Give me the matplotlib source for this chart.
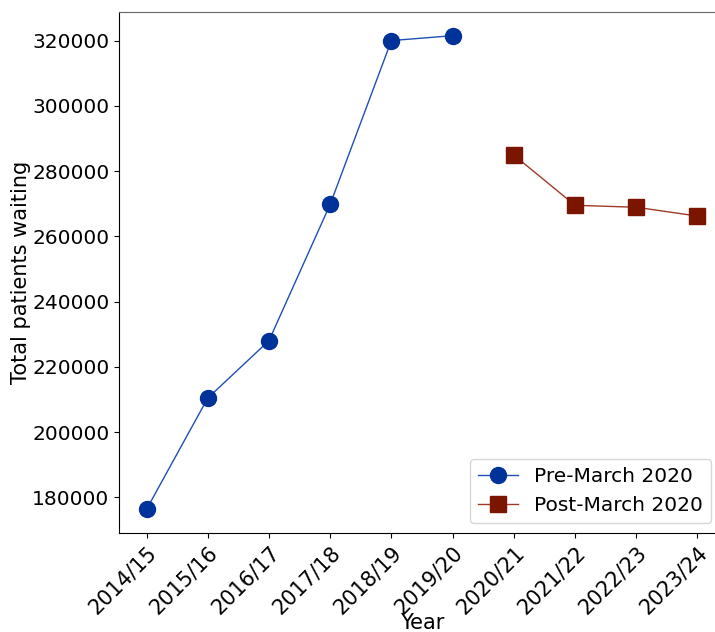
import matplotlib
matplotlib.use("Agg")
import matplotlib.pyplot as plt

years = ["2014/15", "2015/16", "2016/17", "2017/18", "2018/19", "2019/20",
         "2020/21", "2021/22", "2022/23", "2023/24"]
pre_years = years[:6]
pre_values = [176300, 210400, 228000, 269800, 320000, 321500]
post_years = years[6:]
post_values = [284900, 269500, 268900, 266200]

fig = plt.figure(figsize=(7.15, 6.32), dpi=100)
ax = fig.add_axes([119/715, (632-533)/632, 606/715, 521/632])

xpos = {y: i for i, y in enumerate(years)}
ax.plot([xpos[y] for y in pre_years], pre_values, marker="o", markersize=11.5,
        color="#1f4fb5", markerfacecolor="#003399", markeredgecolor="#003399",
        linewidth=1, label="Pre-March 2020")
ax.plot([xpos[y] for y in post_years], post_values, marker="s", markersize=11,
        color="#a03a26", markerfacecolor="#7a1600", markeredgecolor="#7a1600",
        linewidth=1, label="Post-March 2020")

fs = 15
ax.set_xticks(range(len(years)))
ax.set_xticklabels(years, rotation=45, ha="right", rotation_mode="anchor", fontsize=fs)
ax.tick_params(axis="y", labelsize=14.5)
ax.set_xlabel("Year", fontsize=fs)
ax.set_ylabel("Total patients waiting", fontsize=fs)
ax.yaxis.set_label_coords(-0.146, 0.5)
ax.xaxis.set_label_coords(0.5, -0.154)
for side in ("top", "right"):
    ax.spines[side].set_color("#666666")
ax.legend(loc="lower right", fontsize=14.5, bbox_to_anchor=(1 - 4/606, 0))

fig.savefig("out.png", dpi=100)
